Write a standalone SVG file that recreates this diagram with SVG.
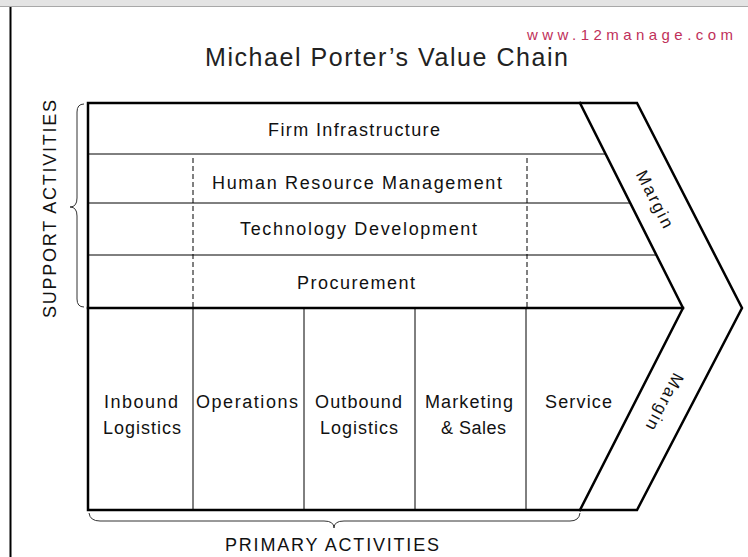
<svg xmlns="http://www.w3.org/2000/svg" width="748" height="557" viewBox="0 0 748 557">
<style>
text{font-family:"Liberation Sans",Arial,sans-serif;fill:#111;}
.lbl{font-size:18px;}
.thick{stroke:#000;stroke-width:2.5;fill:none;stroke-linecap:square;}
.thin{stroke:#000;stroke-width:1;fill:none;}
.dash{stroke:#000;stroke-width:1;stroke-dasharray:5 3;fill:none;}
.brace{stroke:#333;stroke-width:1;fill:none;}
</style>
<rect x="0" y="0" width="748" height="557" fill="#fff"/>
<g id="frame">
<rect x="0" y="0" width="748" height="6" fill="#e4e4e4"/>
<line x1="0" y1="6.5" x2="748" y2="6.5" stroke="#a8a8a8" stroke-width="1"/>
<line x1="10.5" y1="7" x2="10.5" y2="557" stroke="#000" stroke-width="2"/>
</g>
<g id="header">
<text x="527" y="40" font-size="15" textLength="206" lengthAdjust="spacing" style="fill:#c0305a">www.12manage.com</text>
<text x="205" y="66" font-size="25" textLength="363" lengthAdjust="spacing" style="fill:#222">Michael Porter’s Value Chain</text>
</g>
<g id="connectors">
<line class="thin" x1="88" y1="154" x2="605.6" y2="154"/>
<line class="thin" x1="88" y1="203" x2="630.2" y2="203"/>
<line class="thin" x1="88" y1="255" x2="656.4" y2="255"/>
<line class="dash" x1="193" y1="158" x2="193" y2="308"/>
<line class="dash" x1="527" y1="158" x2="527" y2="308"/>
<line class="thin" x1="193" y1="308" x2="193" y2="510"/>
<line class="thin" x1="304" y1="308" x2="304" y2="510"/>
<line class="thin" x1="415" y1="308" x2="415" y2="510"/>
<line class="thin" x1="526" y1="308" x2="526" y2="510"/>
<polyline class="thick" points="88,510 88,103 637,103 742,308 637,510 88,510"/>
<polyline class="thick" points="580,103 683,308 580,510"/>
<line class="thick" x1="88" y1="308" x2="683" y2="308"/>
</g>
<g id="support">
<path class="brace" d="M84,104 Q77,104 77,112 L77,198 Q77,207 70,207 Q77,207 77,216 L77,299 Q77,307 84,307"/>
<text transform="translate(56,209) rotate(-90)" font-size="18" text-anchor="middle" textLength="218" lengthAdjust="spacing">SUPPORT ACTIVITIES</text>
</g>
<g id="firm"><text class="lbl" x="268" y="136" textLength="172" lengthAdjust="spacing">Firm Infrastructure</text></g>
<g id="hrm"><text class="lbl" x="212" y="189" textLength="290" lengthAdjust="spacing">Human Resource Management</text></g>
<g id="tech"><text class="lbl" x="240" y="235" textLength="237" lengthAdjust="spacing">Technology Development</text></g>
<g id="procurement"><text class="lbl" x="297" y="289" textLength="118" lengthAdjust="spacing">Procurement</text></g>
<g id="inbound">
<text class="lbl" x="104" y="408" textLength="74" lengthAdjust="spacing">Inbound</text>
<text class="lbl" x="103" y="434" textLength="78" lengthAdjust="spacing">Logistics</text>
</g>
<g id="operations"><text class="lbl" x="196" y="408" textLength="102" lengthAdjust="spacing">Operations</text></g>
<g id="outbound">
<text class="lbl" x="315" y="408" textLength="87" lengthAdjust="spacing">Outbound</text>
<text class="lbl" x="320" y="434" textLength="78" lengthAdjust="spacing">Logistics</text>
</g>
<g id="marketing">
<text class="lbl" x="425" y="408" textLength="88" lengthAdjust="spacing">Marketing</text>
<text class="lbl" x="441" y="434" textLength="65" lengthAdjust="spacing">&amp; Sales</text>
</g>
<g id="service"><text class="lbl" x="545" y="408" textLength="67" lengthAdjust="spacing">Service</text></g>
<g id="margin">
<text transform="translate(655,199) rotate(63)" font-size="17" x="-31" y="6" textLength="62" lengthAdjust="spacing">Margin</text>
<text transform="translate(665,402) rotate(117.5)" font-size="17" x="-31" y="6" textLength="62" lengthAdjust="spacing">Margin</text>
</g>
<g id="primary">
<path class="brace" d="M89,513 Q90,521 100,521 L324,521 Q334,521 334,528 Q334,521 344,521 L570,521 Q579,521 580,513"/>
<text x="225" y="551" font-size="18" textLength="214" lengthAdjust="spacing">PRIMARY ACTIVITIES</text>
</g>
</svg>
